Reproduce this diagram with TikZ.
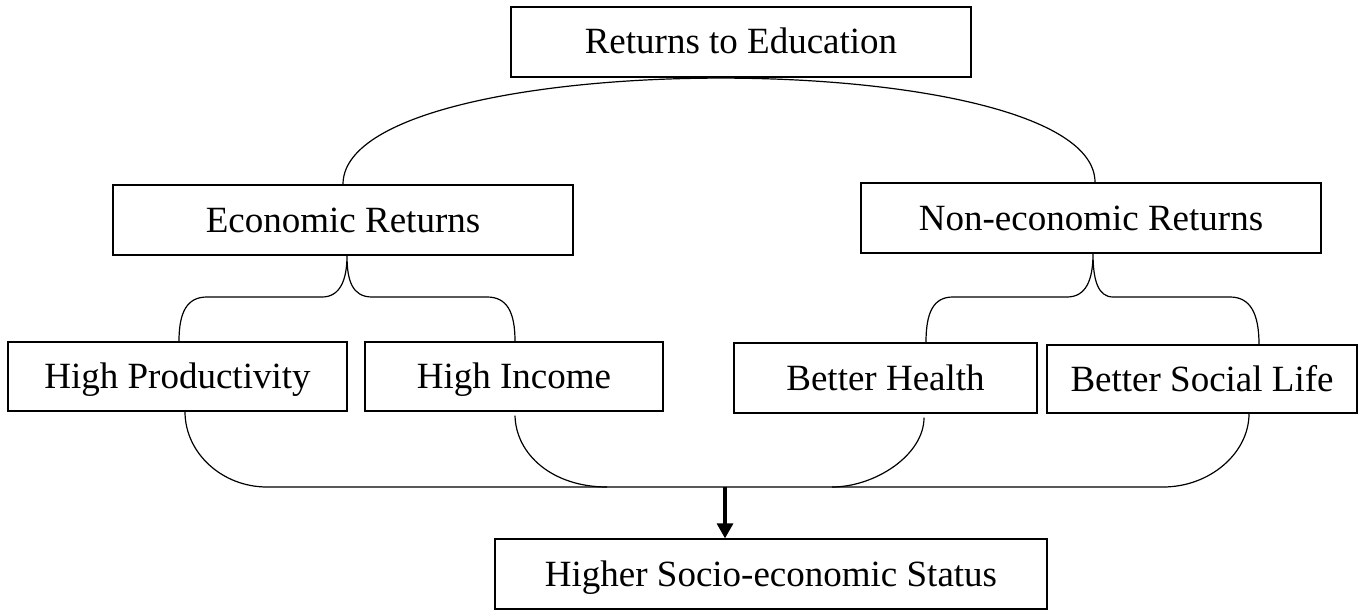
\documentclass[tikz,border=0pt]{standalone}
\usepackage{fontspec}
\setmainfont{Liberation Serif}
\usetikzlibrary{arrows.meta,calc}
\begin{document}
\begin{tikzpicture}[x=1pt,y=-1pt,
  box/.style={draw=black,line width=1.3pt,rectangle,inner sep=0pt,
    font=\fontsize{37}{44}\selectfont,text height=28pt,text depth=4pt},
  link/.style={draw=black,line width=1.2pt},
  bigarrow/.style={draw=black,line width=3.2pt,-{Triangle[width=16pt,length=15pt]}}]
\useasboundingbox (0,0) rectangle (1365,610);

\node[box,minimum width=460pt,minimum height=70pt] (top) at (741,42) {Returns to Education};
\node[box,minimum width=460pt,minimum height=70pt] (econ) at (343,220) {Economic Returns};
\node[box,minimum width=460pt,minimum height=70pt] (nonecon) at (1091,218) {Non-economic Returns};
\node[box,minimum width=339pt,minimum height=69pt] (hp) at (177.5,376.5) {High Productivity};
\node[box,minimum width=298pt,minimum height=69pt] (hi) at (514,376.5) {High Income};
\node[box,minimum width=303pt,minimum height=70pt] (bh) at (885.5,378) {Better Health};
\node[box,minimum width=310pt,minimum height=68pt] (bsl) at (1202,379) {Better Social Life};
\node[box,minimum width=552pt,minimum height=70pt] (higher) at (771,574) {Higher Socio-economic Status};

% top arc
\draw[link] (econ.north) .. controls (343,43) and (1095,43) .. ([xshift=4pt]nonecon.north);

% brace under Economic Returns
\draw[link] ([xshift=1.5pt]hp.north) .. controls (179,312) and (187,297) .. (207,297)
  -- (322,297) .. controls (340,297) and (347,280) .. ([xshift=4pt]econ.south)
  .. controls (347,280) and (352,297) .. (372,297)
  -- (487,297) .. controls (507,297) and (515,312) .. ([xshift=1pt]hi.north);

% brace under Non-economic Returns
\draw[link] ([xshift=40.5pt]bh.north) .. controls (926,313) and (933,297) .. (953,297)
  -- (1067,297) .. controls (1086,297) and (1093,280) .. ([xshift=2pt]nonecon.south)
  .. controls (1093,280) and (1098,297) .. (1113,297)
  -- (1230,297) .. controls (1250,297) and (1259,313) .. ([xshift=57pt]bsl.north);

% bottom collecting line
\draw[link] ([xshift=7.5pt]hp.south) .. controls (185,453) and (222,487) .. (267,487)
  -- (1163,487) .. controls (1210,487) and (1249,453) .. ([xshift=47pt]bsl.south);
\draw[link] ([xshift=1pt,yshift=-4pt]hi.south) .. controls (516,455) and (553,487) .. (607,487);
\draw[link] ([xshift=38.5pt,yshift=-4pt]bh.south) .. controls (924,455) and (875,487) .. (832,487);

% arrow
\coordinate (join) at (725,487);
\draw[bigarrow] (join) -- ([xshift=-46pt]higher.north);
\end{tikzpicture}
\end{document}
